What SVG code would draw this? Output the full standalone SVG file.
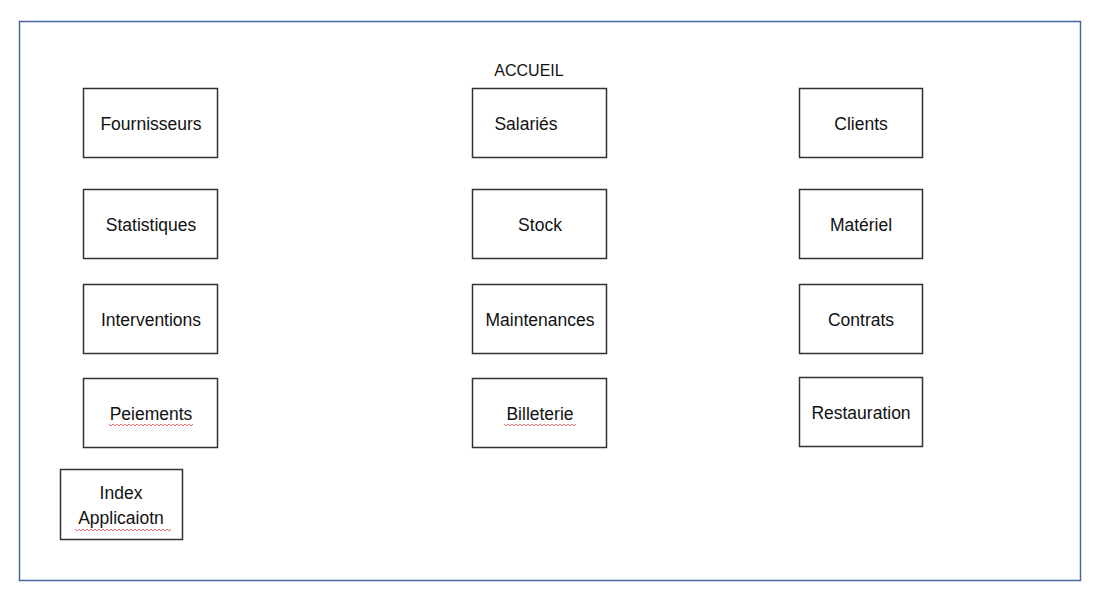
<svg xmlns="http://www.w3.org/2000/svg" width="1107" height="594" viewBox="0 0 1107 594">
<style>
.frame{fill:#fff;stroke:#4a66a0;stroke-width:1.5}
.box{fill:#fff;stroke:#333;stroke-width:1.5}
.t{font-family:"Liberation Sans",Arial,sans-serif;font-size:17.5px;fill:#111;text-anchor:middle}
.h{font-size:16px}
.sq{fill:none;stroke:#e07070;stroke-width:1}
</style>
<rect width="1107" height="594" fill="#fff"/>
<rect class="frame" x="19.5" y="21.5" width="1061" height="559"/>
<text class="t h" x="529" y="76">ACCUEIL</text>
<g id="fournisseurs"><rect class="box" x="83.5" y="88.5" width="134" height="69"/><text class="t" x="151" y="130">Fournisseurs</text></g>
<g id="salaries"><rect class="box" x="472.5" y="88.5" width="134" height="69"/><text class="t" x="526" y="130">Salariés</text></g>
<g id="clients"><rect class="box" x="799.5" y="88.5" width="123" height="69"/><text class="t" x="861" y="130">Clients</text></g>
<g id="statistiques"><rect class="box" x="83.5" y="189.5" width="134" height="69"/><text class="t" x="151" y="231">Statistiques</text></g>
<g id="stock"><rect class="box" x="472.5" y="189.5" width="134" height="69"/><text class="t" x="540" y="231">Stock</text></g>
<g id="materiel"><rect class="box" x="799.5" y="189.5" width="123" height="69"/><text class="t" x="861" y="231">Matériel</text></g>
<g id="interventions"><rect class="box" x="83.5" y="284.5" width="134" height="69"/><text class="t" x="151" y="326">Interventions</text></g>
<g id="maintenances"><rect class="box" x="472.5" y="284.5" width="134" height="69"/><text class="t" x="540" y="326">Maintenances</text></g>
<g id="contrats"><rect class="box" x="799.5" y="284.5" width="123" height="69"/><text class="t" x="861" y="326">Contrats</text></g>
<g id="peiements"><rect class="box" x="83.5" y="378.5" width="134" height="69"/><text class="t" x="151" y="420">Peiements</text><path class="sq" d="M109 424 l2 2 l2 -2 l2 2 l2 -2 l2 2 l2 -2 l2 2 l2 -2 l2 2 l2 -2 l2 2 l2 -2 l2 2 l2 -2 l2 2 l2 -2 l2 2 l2 -2 l2 2 l2 -2 l2 2 l2 -2 l2 2 l2 -2 l2 2 l2 -2 l2 2 l2 -2 l2 2 l2 -2 l2 2 l2 -2 l2 2 l2 -2 l2 2 l2 -2 l2 2 l2 -2 l2 2 l2 -2 l2 2 l2 -2"/></g>
<g id="billeterie"><rect class="box" x="472.5" y="378.5" width="134" height="69"/><text class="t" x="540" y="420">Billeterie</text><path class="sq" d="M504 424 l2 2 l2 -2 l2 2 l2 -2 l2 2 l2 -2 l2 2 l2 -2 l2 2 l2 -2 l2 2 l2 -2 l2 2 l2 -2 l2 2 l2 -2 l2 2 l2 -2 l2 2 l2 -2 l2 2 l2 -2 l2 2 l2 -2 l2 2 l2 -2 l2 2 l2 -2 l2 2 l2 -2 l2 2 l2 -2 l2 2 l2 -2 l2 2 l2 -2"/></g>
<g id="restauration"><rect class="box" x="799.5" y="377.5" width="123" height="69"/><text class="t" x="861" y="419">Restauration</text></g>
<g id="index"><rect class="box" x="60.5" y="469.5" width="122" height="70"/><text class="t" x="121" y="499">Index</text><text class="t" x="121" y="524">Applicaiotn</text><path class="sq" d="M75 529 l2 2 l2 -2 l2 2 l2 -2 l2 2 l2 -2 l2 2 l2 -2 l2 2 l2 -2 l2 2 l2 -2 l2 2 l2 -2 l2 2 l2 -2 l2 2 l2 -2 l2 2 l2 -2 l2 2 l2 -2 l2 2 l2 -2 l2 2 l2 -2 l2 2 l2 -2 l2 2 l2 -2 l2 2 l2 -2 l2 2 l2 -2 l2 2 l2 -2 l2 2 l2 -2 l2 2 l2 -2 l2 2 l2 -2 l2 2 l2 -2 l2 2 l2 -2 l2 2 l2 -2"/></g>
<g id="connectors"></g>
</svg>
